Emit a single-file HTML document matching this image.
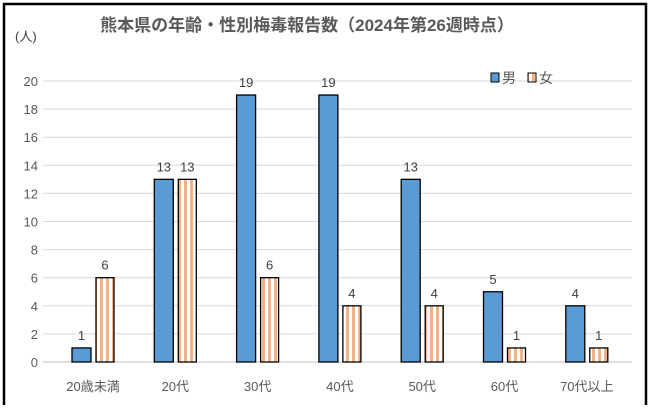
<!DOCTYPE html>
<html><head><meta charset="utf-8"><style>
body{margin:0;background:#fff}
svg text{font-family:"Liberation Sans","Noto Sans CJK JP",sans-serif}
</style></head><body>
<svg width="650" height="405" viewBox="0 0 650 405">
<defs>
<pattern id="stripe" patternUnits="userSpaceOnUse" width="6" height="10" x="1">
<rect width="6" height="10" fill="#fff"/><rect x="3" width="3" height="10" fill="#f4b183"/>
</pattern>
</defs>
<rect x="4" y="4" width="642" height="405" fill="#fff" stroke="#000" stroke-width="2.5"/>
<text x="307" y="31" text-anchor="middle" font-size="17" font-weight="bold" fill="#595959">熊本県の年齢・性別梅毒報告数（2024年第26週時点）</text>
<text x="15" y="41" font-size="13" fill="#404040">(人)</text>
<g id="grid"></g><g id="bars"></g>
<g>
<rect x="491" y="73" width="8" height="9" fill="#5b9bd5" stroke="#000" stroke-width="1"/>
<text x="502" y="83" font-size="14" fill="#595959">男</text>
<rect x="528" y="73" width="8" height="9" fill="url(#stripe)" stroke="#000" stroke-width="1"/>
<text x="539" y="83" font-size="14" fill="#595959">女</text>
</g>
</svg>
<script>
const categories=["20歳未満","20代","30代","40代","50代","60代","70代以上"];
const male=[1,13,19,19,13,5,4];
const female=[6,13,6,4,4,1,1];
const ticks=[0,2,4,6,8,10,12,14,16,18,20];
const NS="http://www.w3.org/2000/svg";
const y=v=>362-v*14.05;
const cx=i=>93+i*82.3;
function mk(t,a,p){const e=document.createElementNS(NS,t);for(const k in a)e.setAttribute(k,a[k]);p.appendChild(e);return e;}
const grid=document.getElementById('grid'),bars=document.getElementById('bars');
ticks.forEach(t=>{
 const l=mk('line',{x1:43,x2:632,y1:y(t),y2:y(t),stroke:t===0?'#bfbfbf':'#d9d9d9','stroke-width':1},grid);
 
 
 const tx=mk('text',{x:38,y:y(t)+5,'text-anchor':'end','font-size':13,fill:'#595959'},grid);
 tx.textContent=t;
 
 
});
categories.forEach((c,i)=>{
 const x=cx(i);
 const m=mk('rect',{x:x-21,y:y(male[i]),width:19,height:y(0)-y(male[i]),fill:'#5b9bd5',stroke:'#000','stroke-width':1.3},bars);
 
 
 const f=mk('rect',{x:x+3,y:y(female[i]),width:18,height:y(0)-y(female[i]),fill:'url(#stripe)',stroke:'#000','stroke-width':1.3},bars);
 
 
 const ml=mk('text',{x:x-11.5,y:y(male[i])-8,'text-anchor':'middle','font-size':13,fill:'#404040'},bars);
 ml.textContent=male[i];
 
 
 const fl=mk('text',{x:x+12,y:y(female[i])-8,'text-anchor':'middle','font-size':13,fill:'#404040'},bars);
 fl.textContent=female[i];
 
 
 const cl=mk('text',{x:x,y:391,'text-anchor':'middle','font-size':13,fill:'#595959'},bars);
 cl.textContent=c;
 
 
});
</script>
</body></html>
